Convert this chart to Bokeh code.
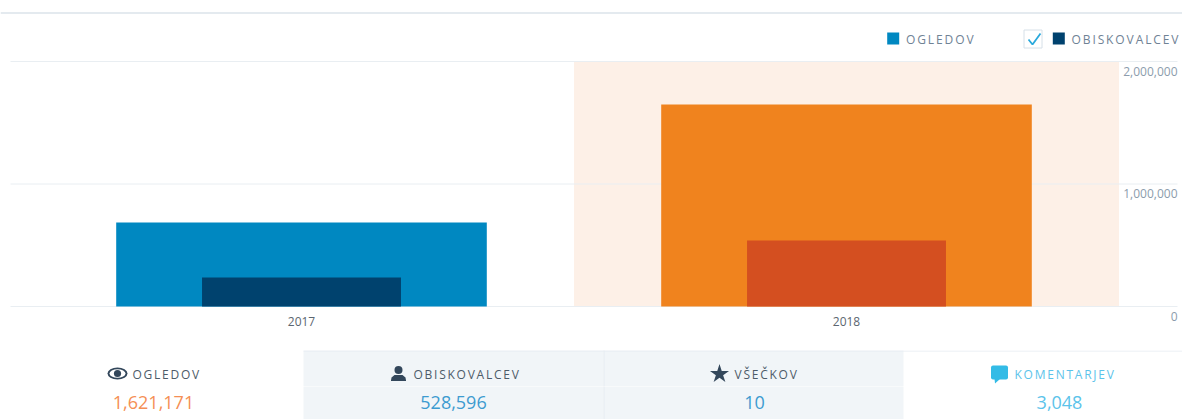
from bokeh.plotting import figure
from bokeh.layouts import column
from bokeh.embed import file_html
from bokeh.resources import INLINE
from bokeh.core.properties import value
from bokeh.models import Range1d, LinearAxis, FixedTicker, NumeralTickFormatter

years = [2017, 2018]
ogledov = [686000, 1649000]
obiskovalcev = [237000, 539000]
highlight_year = [2018]
highlight_top = [2000000]
y_ticks = [0, 1000000, 2000000]

legend_labels = ["OGLEDOV", "OBISKOVALCEV"]
stat_labels = ["OGLEDOV", "OBISKOVALCEV", "VŠEČKOV", "KOMENTARJEV"]
stat_values = ["1,621,171", "528,596", "10", "3,048"]

FONT = value("Open Sans")
UNIT_PER_PX = 2000000 / 245
YEAR_PER_PX = 1 / 545
CENTER_2017 = 301.0
GRID = "#e9eef2"

def strip(height, y0, y1, spacing=None):
    f = figure(width=1182, height=height, output_backend="svg", toolbar_location=None,
               x_range=Range1d(0, 1182), y_range=Range1d(y1, y0),
               x_axis_type=None, y_axis_type=None, min_border=0, outline_line_color=None)
    f.grid.visible = False
    if spacing:
        f.styles = {"letter-spacing": spacing}
    return f

# top strip with legend
top = strip(60, 0, 60, "1.9px")
top.segment([0], [12.5], [1182], [12.5], line_color="#e4eaef", line_width=2)
top.rect([892.7], [38], 12, 12, fill_color="#0088c1", line_color=None)
top.rect([1058.3], [38], 12, 12, fill_color="#00426e", line_color=None)
top.rect([1032.5], [38.5], 18, 18, fill_color="white", line_color="#d6e0e8", line_width=1)
top.line([1028, 1032, 1040], [39, 44, 33], line_color="#2aa9dc", line_width=1.8)
top.text([905.5, 1071], [38.5, 38.5], text=legend_labels, text_font=FONT, text_font_size="12px",
         text_color="#6f8295", text_baseline="middle", text_align="left")

# chart: the frame spans the page width, and also holds the y labels under their rules
p = figure(width=1182, height=290, frame_width=1182, frame_height=270,
           output_backend="svg", toolbar_location=None,
           x_range=Range1d(2017 - CENTER_2017 * YEAR_PER_PX, 2017 + (1182 - CENTER_2017) * YEAR_PER_PX),
           y_range=Range1d(-24 * UNIT_PER_PX, 2000000 + UNIT_PER_PX), y_axis_type=None,
           min_border=0, min_border_bottom=20, outline_line_color=None)
p.grid.visible = False
p.vbar(x=highlight_year, top=highlight_top, bottom=0, width=1.0, fill_color="#fdf0e7",
       line_color=None, level="image")
gx0 = 2017 + (10 - CENTER_2017) * YEAR_PER_PX
gx1 = 2017 + (1177 - CENTER_2017) * YEAR_PER_PX
p.segment(x0=[gx0] * 3, x1=[gx1] * 3, y0=y_ticks, y1=y_ticks, line_color=GRID, line_width=1, level="underlay")
p.vbar(x=years, top=ogledov, bottom=0, width=0.68, fill_color=["#0088c1", "#f0831e"], line_color=None)
p.vbar(x=years, top=obiskovalcev, bottom=0, width=0.365, fill_color=["#00426e", "#d44f20"], line_color=None)

xa = p.xaxis[0]
xa.ticker = FixedTicker(ticks=years)
xa.formatter = NumeralTickFormatter(format="0")
xa.axis_line_color = None
xa.major_tick_line_color = None
xa.minor_tick_line_color = None
xa.major_tick_out = 0
xa.major_tick_in = 0
xa.major_label_standoff = -14
xa.major_label_text_font = "Open Sans"
xa.major_label_text_font_size = "12px"
xa.major_label_text_color = "#5b6670"

shift = 9.7 * UNIT_PER_PX
p.extra_y_ranges = {"labels": Range1d(-24 * UNIT_PER_PX + shift, 2000000 + UNIT_PER_PX + shift)}
ya = LinearAxis(y_range_name="labels", ticker=FixedTicker(ticks=y_ticks),
                formatter=NumeralTickFormatter(format="0,0"),
                axis_line_color=None, major_tick_line_color=None, minor_tick_line_color=None,
                major_tick_in=0, major_tick_out=0,
                major_label_standoff=-1177, major_label_text_align="right",
                major_label_text_baseline="middle", major_label_text_font="Open Sans",
                major_label_text_font_size="12px", major_label_text_color="#8c9cac")
p.add_layout(ya, "left")

# stat cells
s1 = strip(36, 350, 386, "1.75px")
s2 = strip(33, 386, 419)
for f, y, h in ((s1, 368, 38), (s2, 402.5, 35)):
    f.rect([453, 753], [y, y], 300, h, fill_color="#f1f5f8", line_color=None)
    f.segment([603.5], [y - h / 2], [603.5], [y + h / 2], line_color="#e6ecf1", line_width=1)
s1.segment([303], [350.5], [1182], [350.5], line_color="#e6ecf1", line_width=1)

s1.text([132, 413, 734, 1014], [374, 374, 374, 374], text=stat_labels, text_font=FONT,
        text_font_size="12px", text_color=["#4d5b68", "#4d5b68", "#4d5b68", "#5cc3ea"],
        text_baseline="middle", text_align="left")
s2.text([153, 453, 754, 1059], [402, 402, 402, 402], text=stat_values, text_font=FONT,
        text_font_size="18px", text_color=["#f58f55", "#3d9bd0", "#3d9bd0", "#5cc3ea"],
        text_baseline="middle", text_align="center")

ICON = "#33475b"
# eye
s1.ellipse([117], [373], 20, 12, fill_color=ICON, line_color=None)
s1.ellipse([117], [373], 16, 8.5, fill_color="white", line_color=None)
s1.circle([117], [373], radius=3.6, fill_color=ICON, line_color=None)
# person
s1.circle([398], [369.5], radius=4, fill_color=ICON, line_color=None)
s1.patch([390.5, 391, 394, 402, 405, 405.5, 405.5, 390.5], [380, 377, 374.5, 374.5, 377, 380, 380.5, 380.5],
         fill_color=ICON, line_color=None)
# star
s1.scatter([719], [373.5], marker="star", size=20, fill_color=ICON, line_color=None)
# speech bubble
s1.rect([999], [372], 17, 14, fill_color="#33bbe6", line_color=None, border_radius=2)
s1.patch([994, 994.5, 1000], [378, 383, 378], fill_color="#33bbe6", line_color=None)

open("out.html", "w").write(file_html(column(top, p, s1, s2, spacing=0), INLINE))
